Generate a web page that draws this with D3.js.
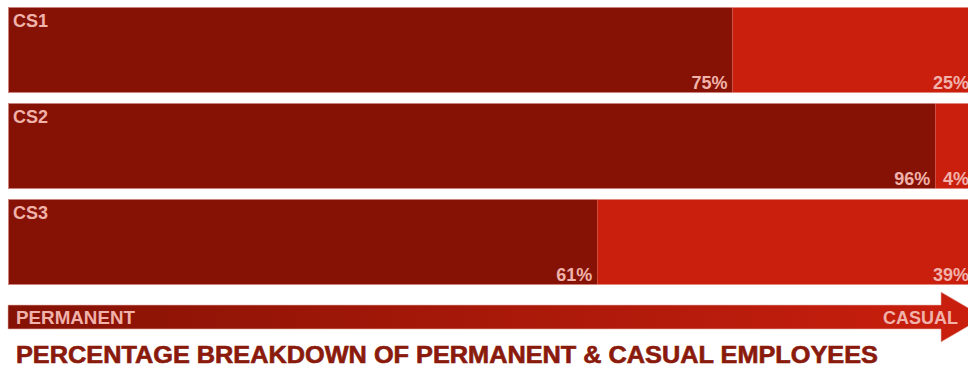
<!DOCTYPE html>
<html><head><meta charset="utf-8">
<script src="https://cdn.jsdelivr.net/npm/d3@7"></script>
<style>html,body{margin:0;padding:0;background:#fff;overflow:hidden}</style>
</head><body>
<svg id="c" width="968" height="368"></svg>
<script>
const categories = ["CS1", "CS2", "CS3"];
const permanent = [75, 96, 61];
const casual = [25, 4, 39];
const seriesNames = ["PERMANENT", "CASUAL"];
const title = "PERCENTAGE BREAKDOWN OF PERMANENT & CASUAL EMPLOYEES";

const svg = d3.select("#c");
const colors = {PERMANENT: "#851204", CASUAL: "#cb1f0e"};
const labelFont = "Liberation Sans, Arial, sans-serif";
const labelColor = "#f0b2aa";
const x = d3.scaleLinear().domain([0, 100]).range([8, 974]);
const y = d3.scaleBand().domain(categories).range([7, 285]).paddingInner(0.104).paddingOuter(0);

const rows = categories.map((c, i) => ({cat: c, segs: [
  {name: "PERMANENT", x0: 0, x1: permanent[i], v: permanent[i]},
  {name: "CASUAL", x0: permanent[i], x1: permanent[i] + casual[i], v: casual[i]}
]}));

const g = svg.selectAll("g.row").data(rows).join("g").attr("class", "row")
  .attr("transform", d => `translate(0,${y(d.cat)})`);
g.selectAll("rect").data(d => d.segs).join("rect")
  .attr("x", d => x(d.x0)).attr("width", d => x(d.x1) - x(d.x0))
  .attr("y", 0).attr("height", y.bandwidth())
  .attr("fill", d => colors[d.name]);
g.append("rect").attr("x", x(0) + 0.5).attr("y", 0.5)
  .attr("width", x(100) - x(0) - 1).attr("height", y.bandwidth() - 1)
  .attr("fill", "none").attr("stroke", "#e8b4ae").attr("stroke-opacity", 0.7);
g.append("text").text(d => d.cat).attr("x", x(0) + 5).attr("y", 20)
  .attr("font-family", labelFont).attr("font-weight", "bold")
  .attr("font-size", 18).attr("fill", labelColor);
g.selectAll("text.pct").data(d => d.segs).join("text").attr("class", "pct")
  .text(d => d.v + "%").attr("x", d => x(d.x1) - 5).attr("y", y.bandwidth() - 4)
  .attr("text-anchor", "end")
  .attr("font-family", labelFont).attr("font-weight", "bold")
  .attr("font-size", 18).attr("fill", labelColor);

// arrow legend
const defs = svg.append("defs");
const grad = defs.append("linearGradient").attr("id", "ag").attr("x1", "0%").attr("x2", "100%");
grad.append("stop").attr("offset", "0%").attr("stop-color", colors.PERMANENT);
grad.append("stop").attr("offset", "100%").attr("stop-color", colors.CASUAL);
const ay0 = 305, ay1 = 329, hx = 941, tip = 984, hy0 = 292, hy1 = 342;
const my = (ay0 + ay1) / 2;
svg.append("path")
  .attr("d", `M${x(0)},${ay0}H${hx}V${hy0}L${tip},${my}L${hx},${hy1}V${ay1}H${x(0)}Z`)
  .attr("fill", "url(#ag)").attr("stroke", "#e8b4ae").attr("stroke-opacity", 0.6);
svg.append("text").text(seriesNames[0]).attr("x", x(0) + 8).attr("y", 324)
  .attr("font-family", labelFont).attr("font-weight", "bold")
  .attr("font-size", 18).attr("fill", labelColor)
  .attr("textLength", 119).attr("lengthAdjust", "spacingAndGlyphs");
svg.append("text").text(seriesNames[1]).attr("x", 958).attr("y", 324).attr("text-anchor", "end")
  .attr("font-family", labelFont).attr("font-weight", "bold")
  .attr("font-size", 18).attr("fill", labelColor);

svg.append("text").text(title).attr("x", 16).attr("y", 363)
  .attr("font-family", "Liberation Sans Narrow, Arial Narrow, Liberation Sans, sans-serif")
  .attr("font-weight", "bold").attr("font-size", 23).attr("fill", "#8a1a0c")
  .attr("stroke", "#8a1a0c").attr("stroke-width", 0.6)
  .attr("textLength", 862).attr("lengthAdjust", "spacingAndGlyphs");
</script>
</body></html>
